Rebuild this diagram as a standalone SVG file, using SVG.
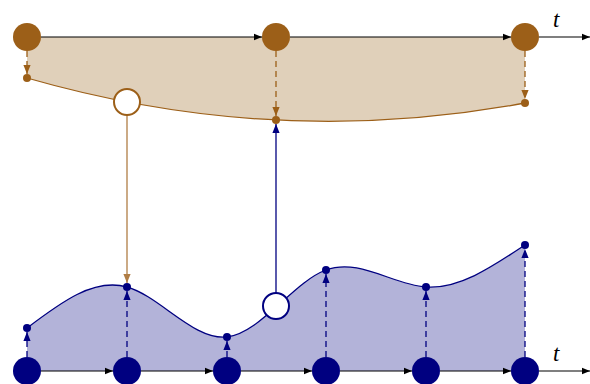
<svg xmlns="http://www.w3.org/2000/svg" width="590" height="384" viewBox="0 0 590 384">
<defs>
<style>
.axis{stroke:#000;stroke-width:1.2;fill:none}
.bbig{fill:#9C5F18}
.nbig{fill:#000080}
.bdot{fill:#9C5F18}
.ndot{fill:#000080}
.bdash{stroke:#9C5F18;stroke-width:1.3;stroke-dasharray:6,4;fill:none}
.ndash{stroke:#000080;stroke-width:1.3;stroke-dasharray:6,4;fill:none}
.lbl{font-family:"Liberation Serif",serif;font-style:italic;font-size:23px;fill:#000}
</style>
<marker id="ak" viewBox="0 0 10 10" refX="10" refY="5" markerWidth="8" markerHeight="8" markerUnits="userSpaceOnUse" orient="auto"><path d="M0,1 L10,5 L0,9 Z" fill="#000"/></marker>
<marker id="ab" viewBox="0 0 10 10" refX="10" refY="5" markerWidth="9" markerHeight="9" markerUnits="userSpaceOnUse" orient="auto"><path d="M0,1 L10,5 L0,9 Z" fill="#9C5F18"/></marker>
<marker id="ab2" viewBox="0 0 10 10" refX="10" refY="5" markerWidth="9" markerHeight="9" markerUnits="userSpaceOnUse" orient="auto"><path d="M0,1 L10,5 L0,9 Z" fill="#B07D45"/></marker>
<marker id="an" viewBox="0 0 10 10" refX="10" refY="5" markerWidth="9" markerHeight="9" markerUnits="userSpaceOnUse" orient="auto"><path d="M0,1 L10,5 L0,9 Z" fill="#000080"/></marker>
</defs>
<g id="fills">
<path d="M27,37 L525,37 L525,103 Q276,149.5 27,78 Z" fill="#E0D0BA"/>
<path d="M27,328 C60.3,302.8 93.7,277.5 127,287 C160.3,296.5 193.7,340.6 227,337 C260,333.5 293,282.1 326,270 C359.3,257.8 392.7,284.7 426,287 C459,289.3 492,266.9 525,245 L525,371 L27,371 Z" fill="#B3B3D9"/>
</g>
<g id="curves">
<path d="M27,78 Q276,149.5 525,103" fill="none" stroke="#9C5F18" stroke-width="1.3"/>
<path d="M27,328 C60.3,302.8 93.7,277.5 127,287 C160.3,296.5 193.7,340.6 227,337 C260,333.5 293,282.1 326,270 C359.3,257.8 392.7,284.7 426,287 C459,289.3 492,266.9 525,245" fill="none" stroke="#000080" stroke-width="1.3"/>
</g>
<g id="connectors">
<line class="axis" x1="41" y1="37" x2="262" y2="37" marker-end="url(#ak)"/>
<line class="axis" x1="290" y1="37" x2="511" y2="37" marker-end="url(#ak)"/>
<line class="axis" x1="539" y1="37" x2="590" y2="37" marker-end="url(#ak)"/>
<line class="axis" x1="41" y1="371" x2="113" y2="371" marker-end="url(#ak)"/>
<line class="axis" x1="141" y1="371" x2="213" y2="371" marker-end="url(#ak)"/>
<line class="axis" x1="241" y1="371" x2="312" y2="371" marker-end="url(#ak)"/>
<line class="axis" x1="340" y1="371" x2="412" y2="371" marker-end="url(#ak)"/>
<line class="axis" x1="440" y1="371" x2="511" y2="371" marker-end="url(#ak)"/>
<line class="axis" x1="539" y1="371" x2="590" y2="371" marker-end="url(#ak)"/>
<line class="bdash" x1="27" y1="51" x2="27" y2="74" marker-end="url(#ab)"/>
<line class="bdash" x1="276" y1="51" x2="276" y2="116" marker-end="url(#ab)"/>
<line class="bdash" x1="525" y1="51" x2="525" y2="99" marker-end="url(#ab)"/>
<line class="ndash" x1="27" y1="357" x2="27" y2="332" marker-end="url(#an)"/>
<line class="ndash" x1="127" y1="357" x2="127" y2="291" marker-end="url(#an)"/>
<line class="ndash" x1="227" y1="357" x2="227" y2="341" marker-end="url(#an)"/>
<line class="ndash" x1="326" y1="357" x2="326" y2="274" marker-end="url(#an)"/>
<line class="ndash" x1="426" y1="357" x2="426" y2="291" marker-end="url(#an)"/>
<line class="ndash" x1="525" y1="357" x2="525" y2="249" marker-end="url(#an)"/>
<line x1="127" y1="115" x2="127" y2="283" stroke="#B07D45" stroke-width="1.3" marker-end="url(#ab2)"/>
<line x1="276" y1="293" x2="276" y2="124" stroke="#000080" stroke-width="1.3" marker-end="url(#an)"/>
</g>
<g id="top-nodes">
<circle class="bbig" cx="27" cy="37" r="14"/>
<circle class="bbig" cx="276" cy="37" r="14"/>
<circle class="bbig" cx="525" cy="37" r="14"/>
<circle class="bdot" cx="27" cy="78" r="4"/>
<circle class="bdot" cx="276" cy="120" r="4"/>
<circle class="bdot" cx="525" cy="103" r="4"/>
<circle id="top-open" cx="127" cy="102" r="13" fill="#fff" stroke="#9C5F18" stroke-width="2"/>
</g>
<g id="bottom-nodes">
<circle class="nbig" cx="27" cy="371" r="14"/>
<circle class="nbig" cx="127" cy="371" r="14"/>
<circle class="nbig" cx="227" cy="371" r="14"/>
<circle class="nbig" cx="326" cy="371" r="14"/>
<circle class="nbig" cx="426" cy="371" r="14"/>
<circle class="nbig" cx="525" cy="371" r="14"/>
<circle class="ndot" cx="27" cy="328" r="4"/>
<circle class="ndot" cx="127" cy="287" r="4"/>
<circle class="ndot" cx="227" cy="337" r="4"/>
<circle class="ndot" cx="326" cy="270" r="4"/>
<circle class="ndot" cx="426" cy="287" r="4"/>
<circle class="ndot" cx="525" cy="245" r="4"/>
<circle id="bottom-open" cx="276" cy="306" r="13" fill="#fff" stroke="#000080" stroke-width="2"/>
</g>
<g id="labels">
<text class="lbl" x="553" y="27">t</text>
<text class="lbl" x="553" y="361">t</text>
</g>
</svg>
